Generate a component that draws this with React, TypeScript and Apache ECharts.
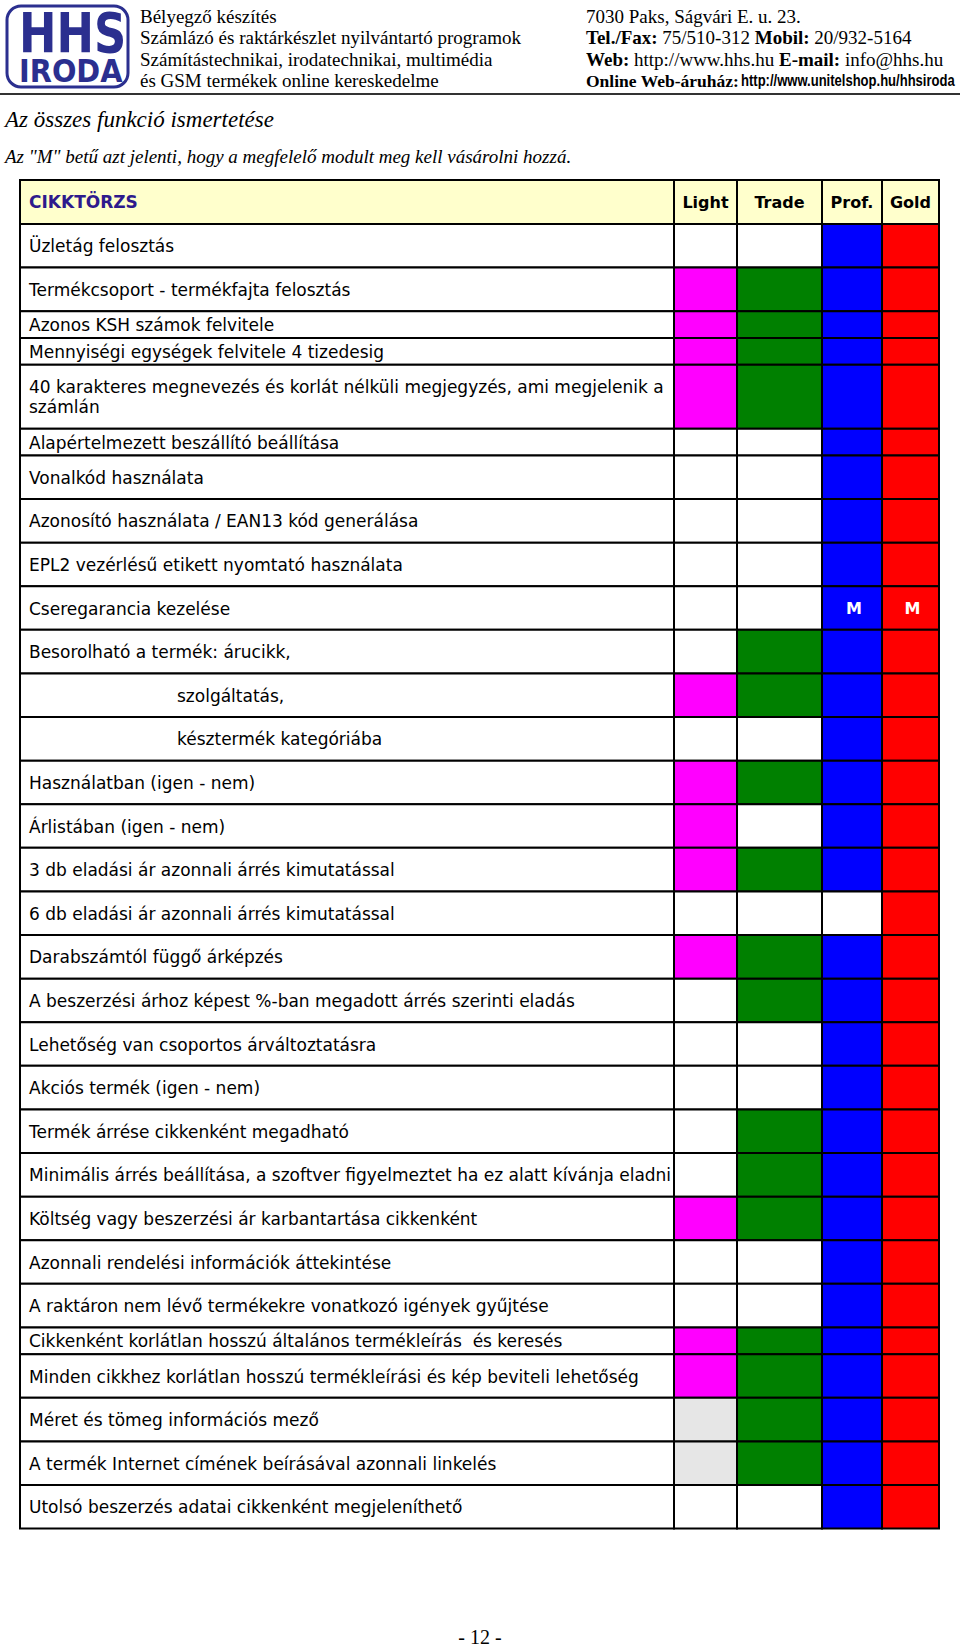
import React, { useEffect, useRef } from "react";
import * as echarts from "echarts";

// ---------------- DATA ----------------
const SECTION_TITLE = "CIKKTÖRZS";
const EDITIONS = ["Light", "Trade", "Prof.", "Gold"];

const FEATURES = [
  "Üzletág felosztás",
  "Termékcsoport - termékfajta felosztás",
  "Azonos KSH számok felvitele",
  "Mennyiségi egységek felvitele 4 tizedesig",
  "40 karakteres megnevezés és korlát nélküli megjegyzés, ami megjelenik a\nszámlán",
  "Alapértelmezett beszállító beállítása",
  "Vonalkód használata",
  "Azonosító használata / EAN13 kód generálása",
  "EPL2 vezérlésű etikett nyomtató használata",
  "Cseregarancia kezelése",
  "Besorolható a termék: árucikk,",
  "szolgáltatás,",
  "késztermék kategóriába",
  "Használatban (igen - nem)",
  "Árlistában (igen - nem)",
  "3 db eladási ár azonnali árrés kimutatással",
  "6 db eladási ár azonnali árrés kimutatással",
  "Darabszámtól függő árképzés",
  "A beszerzési árhoz képest %-ban megadott árrés szerinti eladás",
  "Lehetőség van csoportos árváltoztatásra",
  "Akciós termék (igen - nem)",
  "Termék árrése cikkenként megadható",
  "Minimális árrés beállítása, a szoftver figyelmeztet ha ez alatt kívánja eladni",
  "Költség vagy beszerzési ár karbantartása cikkenként",
  "Azonnali rendelési információk áttekintése",
  "A raktáron nem lévő termékekre vonatkozó igények gyűjtése",
  "Cikkenként korlátlan hosszú általános termékleírás  és keresés",
  "Minden cikkhez korlátlan hosszú termékleírási és kép beviteli lehetőség",
  "Méret és tömeg információs mező",
  "A termék Internet címének beírásával azonnali linkelés",
  "Utolsó beszerzés adatai cikkenként megjeleníthető",
];

// status codes: N = not included, Y = included, M = module must be bought, G = n/a (grey)
const N = 0, Y = 1, M = 2, G = 3;
const LIGHT = [N, Y, Y, Y, Y, N, N, N, N, N, N, Y, N, Y, Y, Y, N, Y, N, N, N, N, N, Y, N, N, Y, Y, G, G, N];
const TRADE = [N, Y, Y, Y, Y, N, N, N, N, N, Y, Y, N, Y, N, Y, N, Y, Y, N, N, Y, Y, Y, N, N, Y, Y, Y, Y, N];
const PROF = [Y, Y, Y, Y, Y, Y, Y, Y, Y, M, Y, Y, Y, Y, Y, Y, N, Y, Y, Y, Y, Y, Y, Y, Y, Y, Y, Y, Y, Y, Y];
const GOLD = [Y, Y, Y, Y, Y, Y, Y, Y, Y, M, Y, Y, Y, Y, Y, Y, Y, Y, Y, Y, Y, Y, Y, Y, Y, Y, Y, Y, Y, Y, Y];
const STATUS = [LIGHT, TRADE, PROF, GOLD];

const HEADER_LEFT = [
  "Bélyegző készítés",
  "Számlázó és raktárkészlet nyilvántartó programok",
  "Számítástechnikai, irodatechnikai, multimédia",
  "és GSM termékek online kereskedelme",
];
const HEADER_RIGHT = [
  "7030 Paks, Ságvári E. u. 23.",
  "{b|Tel./Fax:} 75/510-312 {b|Mobil:} 20/932-5164",
  "{b|Web:} http://www.hhs.hu {b|E-mail:} info@hhs.hu",
];
const SHOP_LABEL = "Online Web-áruház:";
const SHOP_URL = "http://www.unitelshop.hu/hhsiroda";
const TITLE = "Az összes funkció ismertetése";
const SUBTITLE = 'Az "M" betű azt jelenti, hogy a megfelelő modult meg kell vásárolni hozzá.';
const PAGE_NO = "- 12 -";

// ---------------- LAYOUT / STYLE ----------------
const EDITION_COLORS = ["#FF00FF", "#008000", "#0000FF", "#FF0000"];
const GREY = "#E6E6E6";
const HEADER_BG = "#FFFFCC";
const SECTION_COLOR = "#2E1A8C";
const LOGO_BLUE = "#2B2F8F";
const SERIF = "'Liberation Serif', 'Times New Roman', serif";
const SANS = "'DejaVu Sans', Verdana, sans-serif";
const ARIAL = "'Liberation Sans', Arial, sans-serif";

const COL_WIDTHS = [654, 63, 85, 60, 57];
const SHORT_ROWS = new Set([2, 3, 5, 26]);
const DOUBLE_ROWS = new Set([4]);
const INDENTED_ROWS = new Set([11, 12]);
const H_HEADER = 44;
const H_NORMAL = 43.6;
const H_SHORT = 26.75;
const H_DOUBLE = 64;

const colEdges: number[] = [0];
COL_WIDTHS.forEach((w) => colEdges.push(colEdges[colEdges.length - 1] + w));
const rowHeights = [H_HEADER, ...FEATURES.map((_, i) => (SHORT_ROWS.has(i) ? H_SHORT : DOUBLE_ROWS.has(i) ? H_DOUBLE : H_NORMAL))];
const rowEdges: number[] = [0];
rowHeights.forEach((h) => rowEdges.push(rowEdges[rowEdges.length - 1] + h));
const TABLE_W = colEdges[colEdges.length - 1];
const TABLE_H = rowEdges[rowEdges.length - 1];

function buildData() {
  const data: number[][] = [];
  for (let c = 0; c < 5; c++) data.push([c, -1, 0]);
  FEATURES.forEach((_, r) => {
    data.push([0, r, 0]);
    for (let e = 0; e < 4; e++) data.push([e + 1, r, STATUS[e][r]]);
  });
  return data;
}

function txt(text: string, x: number, y: number, o: any = {}) {
  return {
    type: "text",
    style: {
      text,
      x,
      y,
      fill: o.fill || "#000",
      fontFamily: o.fontFamily || SANS,
      fontWeight: o.fontWeight || "normal",
      fontSize: o.fontSize || 17,
      lineHeight: o.lineHeight,
      align: o.align || "left",
      verticalAlign: "middle",
    },
    z2: 10,
  };
}

export default function App() {
  const ref = useRef<HTMLDivElement>(null);

  useEffect(() => {
    const chart = echarts.init(ref.current!, null, { renderer: "svg" });

    const renderItem = (params: any, api: any) => {
      const col = api.value(0) as number;
      const row = api.value(1) as number;
      const status = api.value(2) as number;
      const ri = row + 1;
      const p0 = api.coord([colEdges[col], rowEdges[ri]]);
      const p1 = api.coord([colEdges[col + 1], rowEdges[ri + 1]]);
      const x = p0[0];
      const y = p0[1];
      const w = p1[0] - p0[0];
      const h = p1[1] - p0[1];
      let fill = "#FFFFFF";
      const children: any[] = [];
      if (row < 0) {
        fill = HEADER_BG;
        if (col === 0) {
          children.push(txt(SECTION_TITLE, x + 9, y + h / 2, { fill: SECTION_COLOR, fontWeight: "bold", fontSize: 17 }));
        } else {
          children.push(txt(EDITIONS[col - 1], x + w / 2, y + h / 2, { fontWeight: "bold", fontSize: 16, align: "center" }));
        }
      } else if (col === 0) {
        children.push(
          txt(FEATURES[row], x + (INDENTED_ROWS.has(row) ? 157 : 9), y + h / 2 + 0.5, { fontSize: 17, lineHeight: 20 })
        );
      } else {
        const color = EDITION_COLORS[col - 1];
        if (status === Y || status === M) fill = color;
        else if (status === G) fill = GREY;
        if (status === M) {
          children.push(txt("M", x + w / 2 + 2, y + h / 2, { fill: "#FFFFFF", fontWeight: "bold", fontSize: 16, align: "center" }));
        }
      }
      return {
        type: "group",
        children: [
          {
            type: "rect",
            shape: { x, y, width: w, height: h },
            style: { fill, stroke: "#000", lineWidth: 2 },
          },
          ...children,
        ],
      };
    };

    const gText = (text: string, x: number, y: number, o: any = {}) => ({
      type: "text",
      x,
      y,
      scaleX: o.scaleX || 1,
      style: {
        text,
        fill: o.fill || "#000",
        fontFamily: o.fontFamily || SERIF,
        fontStyle: o.fontStyle || "normal",
        fontWeight: o.fontWeight || "normal",
        fontSize: o.fontSize || 19,
        align: o.align || "left",
        verticalAlign: "middle",
        rich: o.rich,
      },
    });

    const option: any = {
      animation: false,
      backgroundColor: "#FFFFFF",
      grid: { left: 20, top: 180, width: TABLE_W, height: TABLE_H },
      xAxis: { type: "value", min: 0, max: TABLE_W, show: false },
      yAxis: { type: "value", min: 0, max: TABLE_H, inverse: true, show: false },
      series: [
        {
          type: "custom",
          renderItem,
          data: buildData(),
          clip: false,
          silent: true,
        },
      ],
      graphic: [
        // logo
        {
          type: "rect",
          shape: { x: 7, y: 6, width: 121, height: 81, r: 14 },
          style: { fill: "#FFFFFF", stroke: LOGO_BLUE, lineWidth: 3 },
        },
        gText("HHS", 19, 33, { fontFamily: SANS, fontWeight: "bold", fontSize: 56, scaleX: 0.8, fill: LOGO_BLUE }),
        gText("IRODA", 19, 71, { fontFamily: SANS, fontWeight: "bold", fontSize: 32, scaleX: 0.9, fill: LOGO_BLUE }),
        // company info
        ...HEADER_LEFT.map((t, i) => gText(t, 140, 16 + i * 21.6)),
        ...HEADER_RIGHT.map((t, i) =>
          gText(t, 586, 16 + i * 21.6, {
            rich: { b: { fontFamily: SERIF, fontSize: 19, fontWeight: "bold", fill: "#000" } },
          })
        ),
        gText(SHOP_LABEL, 586, 16 + 3 * 21.6, { fontWeight: "bold", fontSize: 17.5 }),
        gText(SHOP_URL, 741, 16 + 3 * 21.6, { fontFamily: ARIAL, fontWeight: "bold", fontSize: 16, scaleX: 0.815 }),
        {
          type: "line",
          shape: { x1: 0, y1: 94, x2: 960, y2: 94 },
          style: { stroke: "#333333", lineWidth: 2 },
        },
        gText(TITLE, 5, 119, { fontStyle: "italic", fontSize: 23 }),
        gText(SUBTITLE, 5, 156, { fontStyle: "italic", fontSize: 19 }),
        gText(PAGE_NO, 480, 1637, { fontSize: 20, align: "center" }),
      ],
    };

    chart.setOption(option);
    return () => chart.dispose();
  }, []);

  return (
    <div
      ref={ref}
      style={{ position: "absolute", left: 0, top: 0, width: 960, height: 1649, background: "#FFFFFF" }}
    />
  );
}
